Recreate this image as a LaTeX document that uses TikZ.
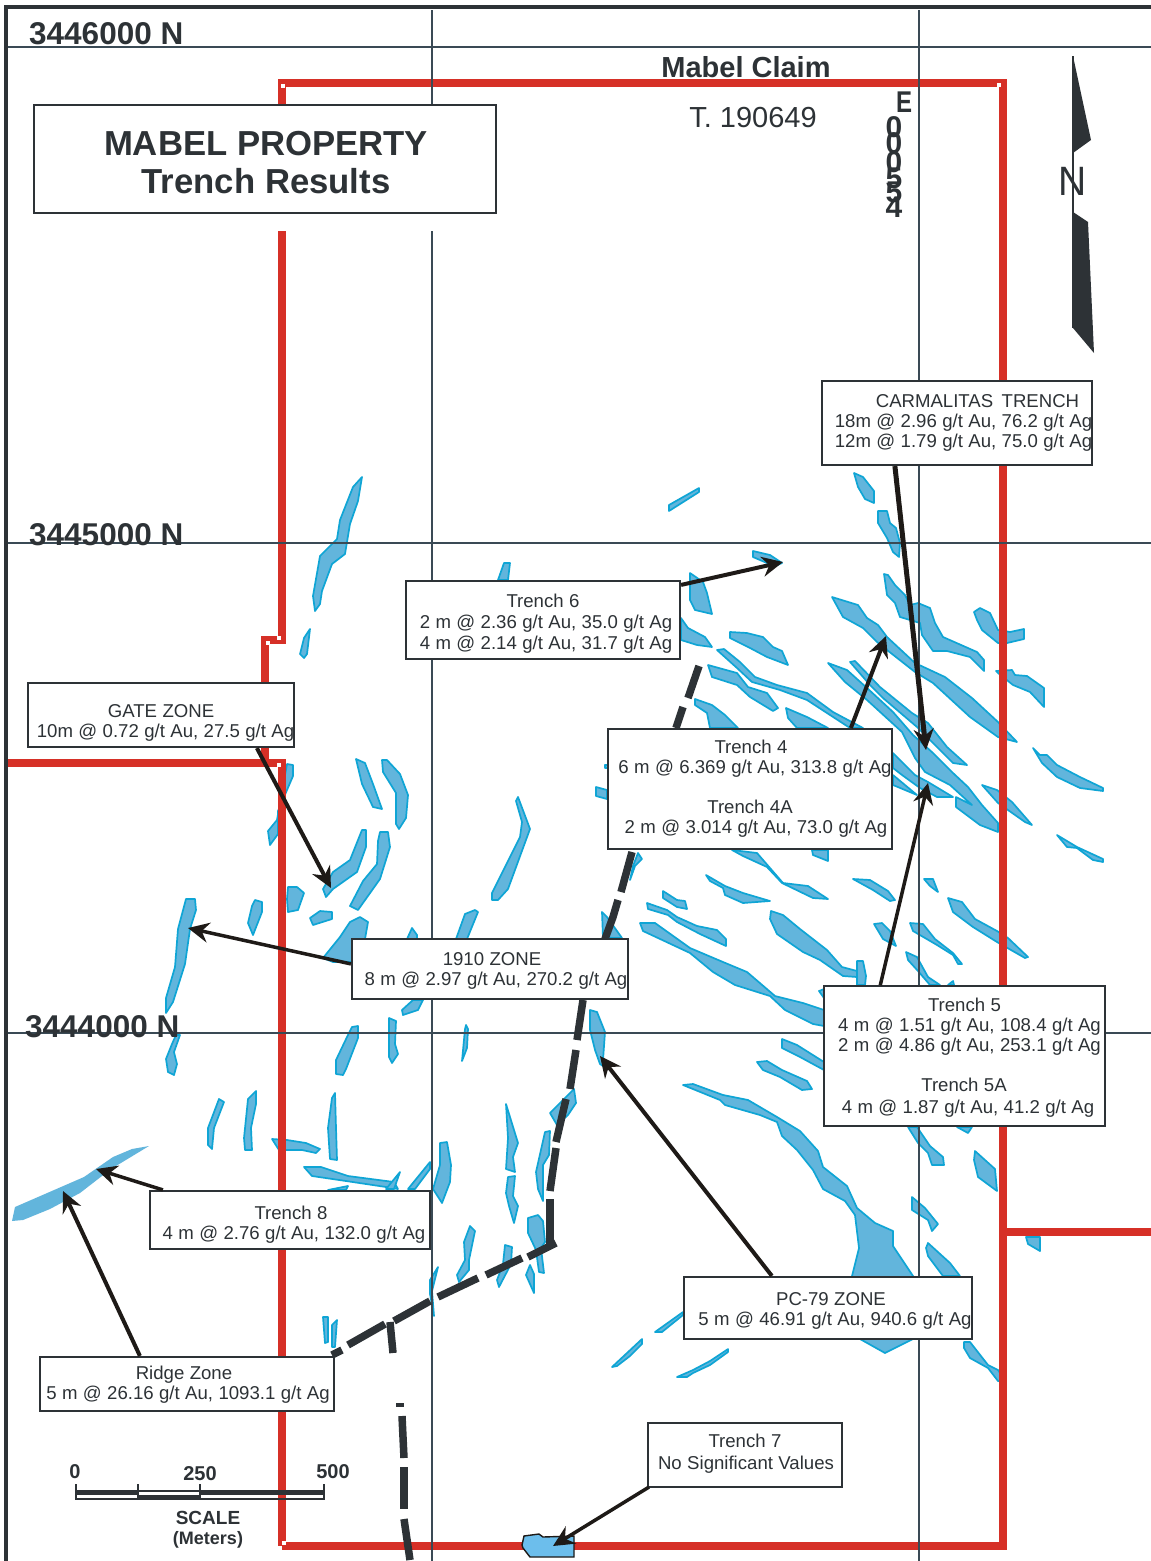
\documentclass[tikz,border=0pt]{standalone}
\usepackage{fontspec}
\setmainfont{Liberation Sans}
\usetikzlibrary{arrows.meta}
\definecolor{veinfill}{HTML}{62B5DC}
\definecolor{veinline}{HTML}{0FA5D5}
\definecolor{claimred}{HTML}{D63027}
\definecolor{gridcol}{HTML}{3A4A55}
\definecolor{inkdark}{HTML}{2D3236}
\definecolor{arrowcol}{HTML}{1E1A17}
\definecolor{blobfill}{HTML}{6CBEEC}
\tikzset{
  vein/.style={fill=veinfill,draw=veinline,line width=1.7pt,line join=round},
  claim/.style={draw=claimred,line width=7.8pt,line join=miter},
  gridline/.style={draw=gridcol,line width=1.9pt},
  trace/.style={draw=inkdark,line width=7.5pt},
  resultbox/.style={draw=inkdark,line width=2.2pt,fill=white,inner sep=0pt},
  resulttext/.style={inner sep=0pt,align=center,text=inkdark,font={\fontsize{18.6}{20}\selectfont\spaceskip=5.4pt}},
  pointer/.style={draw=arrowcol,line width=4pt,-{Stealth[length=21pt,width=20pt,inset=7pt]}},
  coord/.style={font={\bfseries\fontsize{31.5}{34}\selectfont},text=inkdark,inner sep=0pt,anchor=base west},
  scaletext/.style={font={\bfseries\fontsize{20}{22}\selectfont},text=inkdark,inner sep=0pt},
  whitesq/.style={fill=white,draw=none},
  eastdigit/.style={font={\bfseries\fontsize{30}{32}\selectfont},text=inkdark,inner sep=0pt}
}
\newcommand{\veinshape}[1]{\draw[vein] plot coordinates {#1} -- cycle;}
\begin{document}
\begin{tikzpicture}[x=1pt,y=-1pt]
\useasboundingbox (0,0) rectangle (1151,1561);
\fill[white] (0,0) rectangle (1151,1561);
% veins
\veinshape{(669,505) (699,488) (699,492) (669,511)}
\veinshape{(854,473) (863,477) (874,491) (874,503) (865,499) (858,487)}
\veinshape{(878,511) (887,511) (890,523) (896,528) (900,543) (899,557) (893,552) (887,538) (878,523)}
\veinshape{(753,551) (770,555) (782,563) (773,567) (767,563) (753,557)}
\veinshape{(690,573) (703,582) (707,593) (712,614) (695,610) (690,600)}
\veinshape{(681,618) (688,628) (705,637) (712,647) (697,645) (681,640)}
\veinshape{(730,632) (747,633) (763,637) (773,647) (782,651) (788,665) (767,657) (750,648) (730,638)}
\veinshape{(717,650) (724,649) (740,662) (755,677) (777,685) (807,693) (833,712) (863,728) (850,728) (807,700) (780,690) (752,682) (737,668)}
\veinshape{(708,665) (737,673) (748,687) (767,693) (778,708) (773,711) (750,697) (737,685) (712,677)}
\veinshape{(695,699) (712,705) (725,715) (738,728) (710,728) (707,713) (695,705)}
\veinshape{(786,708) (807,717) (828,728) (797,728) (788,718)}
\veinshape{(832,597) (858,605) (867,618) (878,625) (887,637) (915,663) (945,677) (972,698) (998,722) (1017,742) (998,737) (970,717) (933,683) (915,672) (887,650) (877,642) (863,628) (843,617)}
\veinshape{(884,574) (888,575) (895,585) (905,595) (910,605) (918,603) (930,608) (935,623) (943,637) (977,652) (984,660) (984,671) (970,657) (947,651) (933,651) (922,635) (920,623) (900,617) (895,603) (887,595)}
\veinshape{(974,612) (980,608) (990,613) (998,630) (1010,632) (1024,629) (1024,639) (1007,643) (998,643) (982,630) (977,620)}
\veinshape{(996,671) (1012,670) (1015,675) (1027,676) (1044,688) (1044,707) (1030,692) (1013,685) (998,673)}
\veinshape{(850,662) (855,661) (880,687) (912,713) (928,723) (947,747) (967,765) (953,763) (933,743) (917,727) (883,698) (870,685)}
\veinshape{(828,663) (847,670) (867,688) (893,712) (913,735) (933,753) (953,773) (968,787) (982,805) (998,823) (998,832) (980,825) (956,807) (956,797) (972,805) (950,785) (925,772) (915,758) (902,732) (867,700) (845,682)}
\veinshape{(893,753) (907,767) (915,775) (928,782) (953,797) (937,797) (920,788) (902,775) (893,768)}
\veinshape{(893,775) (917,795) (893,785)}
\veinshape{(982,785) (997,790) (1012,802) (1032,825) (1025,822) (998,803)}
\veinshape{(1033,748) (1040,755) (1047,755) (1057,765) (1080,777) (1103,788) (1103,791) (1080,788) (1057,777) (1042,763)}
\veinshape{(1057,835) (1077,847) (1103,859) (1103,862) (1093,860) (1077,848) (1067,847)}
\veinshape{(596,787) (607,790) (607,799) (596,796)}
\veinshape{(605,765) (608,765) (608,768) (605,768)}
\veinshape{(732,850) (757,853) (783,883) (808,886) (828,899) (813,898) (782,883) (767,867) (743,856)}
\veinshape{(812,850) (828,850) (828,861) (813,855)}
\veinshape{(706,875) (725,886) (743,893) (770,901) (743,903) (725,895) (723,888) (710,881)}
\veinshape{(663,891) (677,900) (685,901) (687,909) (677,907) (663,898)}
\veinshape{(647,903) (667,910) (677,917) (697,926) (717,930) (726,939) (726,946) (700,934) (677,922) (668,915) (648,909)}
\veinshape{(640,923) (655,923) (690,948) (723,962) (747,972) (775,996) (803,1003) (824,1010) (824,1026) (813,1024) (785,1010) (770,996) (735,985) (713,972) (690,953) (643,931)}
\veinshape{(771,911) (783,915) (800,929) (827,950) (842,967) (857,971) (857,977) (843,976) (820,960) (803,952) (777,934) (770,919)}
\veinshape{(857,961) (863,961) (866,976) (865,985) (857,985)}
\veinshape{(853,879) (870,880) (888,891) (895,900) (890,901) (873,890)}
\veinshape{(924,879) (933,879) (938,892) (930,886)}
\veinshape{(948,898) (962,902) (975,919) (997,931) (1008,938) (1028,957) (1025,958) (997,942) (973,927) (953,912)}
\veinshape{(874,924) (882,923) (890,931) (896,946) (883,939)}
\veinshape{(910,923) (923,924) (935,939) (953,953) (962,964) (958,964) (953,955) (937,945) (913,931)}
\veinshape{(906,952) (917,957) (928,977) (940,985) (930,985) (918,971) (908,960)}
\veinshape{(953,981) (954,985) (948,985)}
\veinshape{(819,991) (824,989) (824,998)}
\veinshape{(782,1039) (797,1045) (824,1062) (824,1070) (800,1057) (782,1048)}
\veinshape{(757,1062) (767,1061) (782,1070) (807,1081) (812,1089) (802,1090) (780,1077) (763,1070)}
\veinshape{(683,1085) (693,1084) (723,1095) (748,1100) (777,1117) (800,1131) (818,1151) (823,1167) (847,1186) (857,1208) (875,1223) (893,1231) (893,1246) (913,1276) (913,1339) (885,1353) (860,1339) (852,1276) (859,1248) (855,1215) (845,1201) (823,1189) (813,1170) (797,1150) (782,1136) (777,1122) (760,1115) (725,1105) (720,1100)}
\veinshape{(908,1127) (917,1127) (930,1146) (943,1157) (944,1165) (932,1165) (928,1153) (918,1143)}
\veinshape{(957,1127) (972,1127) (968,1133)}
\veinshape{(975,1151) (995,1169) (997,1191) (978,1177) (974,1160)}
\veinshape{(912,1197) (925,1208) (938,1224) (932,1231) (928,1220) (912,1210)}
\veinshape{(928,1243) (950,1263) (960,1276) (943,1276) (928,1256) (926,1248)}
\veinshape{(1026,1237) (1040,1237) (1040,1251) (1028,1244)}
\veinshape{(964,1342) (970,1342) (988,1365) (998,1370) (1006,1382) (998,1381) (988,1368) (970,1358) (964,1348)}
\veinshape{(655,1332) (683,1312) (683,1315) (662,1332)}
\veinshape{(612,1367) (627,1353) (642,1339) (642,1344) (630,1356) (617,1366)}
\veinshape{(677,1377) (693,1370) (710,1361) (728,1349) (728,1352) (710,1365) (693,1373) (687,1377)}
\veinshape{(602,912) (607,917) (622,938) (603,938)}
\veinshape{(638,853) (642,859) (635,866) (630,880) (633,866)}
\veinshape{(362,477) (358,501) (350,524) (345,554) (332,564) (322,591) (320,604) (315,611) (313,596) (320,556) (337,539) (340,520) (353,487)}
\veinshape{(310,629) (307,654) (304,658) (300,654) (304,638)}
\veinshape{(504,563) (510,563) (508,580) (498,580)}
\veinshape{(356,759) (365,763) (373,784) (382,809) (373,807) (362,784)}
\veinshape{(382,760) (387,760) (400,774) (408,795) (406,818) (399,829) (396,824) (396,793) (383,772)}
\veinshape{(287,764) (293,765) (293,776) (278,811) (278,834) (270,845) (268,831) (277,820)}
\veinshape{(362,830) (366,830) (366,847) (357,872) (333,889) (326,897) (323,889) (333,872) (350,860)}
\veinshape{(380,832) (388,832) (390,847) (380,879) (358,910) (350,906) (363,881) (377,864) (378,841)}
\veinshape{(288,887) (297,887) (304,893) (298,910) (288,912) (287,899)}
\veinshape{(310,918) (320,911) (332,912) (332,919) (313,925)}
\veinshape{(360,917) (368,922) (365,939) (352,939) (352,962) (333,962) (323,958) (340,937) (350,922)}
\veinshape{(255,900) (262,902) (262,912) (253,935) (248,923) (252,906)}
\veinshape{(186,899) (195,899) (196,910) (190,929) (185,964) (173,1002) (166,1013) (166,998) (175,967) (178,929)}
\veinshape{(176,1035) (180,1035) (174,1052) (177,1064) (174,1075) (168,1072) (166,1059) (172,1044)}
\veinshape{(518,797) (530,829) (508,889) (498,900) (492,900) (492,893) (520,837) (522,822) (516,801)}
\veinshape{(475,910) (478,912) (467,939) (456,939) (465,914)}
\veinshape{(412,928) (417,935) (417,939) (407,939)}
\veinshape{(403,1015) (402,1010) (413,1000) (423,1000) (418,1010)}
\veinshape{(352,1027) (358,1026) (358,1038) (346,1069) (343,1075) (336,1074) (336,1060) (347,1037)}
\veinshape{(389,1018) (396,1021) (395,1044) (398,1054) (392,1063) (389,1057)}
\veinshape{(466,1025) (468,1029) (467,1048) (462,1061) (465,1029)}
\veinshape{(590,1010) (597,1012) (605,1032) (603,1060) (606,1068) (600,1064) (595,1050) (590,1030)}
\veinshape{(219,1099) (224,1102) (214,1128) (212,1149) (208,1145) (208,1128)}
\veinshape{(256,1091) (256,1104) (251,1128) (252,1150) (245,1150) (244,1138) (248,1099)}
\veinshape{(335,1093) (336,1128) (337,1160) (330,1159) (328,1128) (332,1098)}
\veinshape{(272,1139) (287,1140) (306,1143) (320,1149) (316,1153) (302,1150) (279,1150)}
\veinshape{(304,1167) (321,1167) (348,1176) (394,1182) (398,1189) (386,1187) (346,1181) (312,1176)}
\veinshape{(328,1190) (348,1186) (346,1190)}
\veinshape{(386,1189) (400,1172) (394,1189)}
\veinshape{(408,1189) (430,1162) (430,1169) (415,1189)}
\veinshape{(440,1143) (447,1142) (451,1165) (450,1182) (442,1203) (433,1189) (440,1165)}
\veinshape{(506,1104) (518,1143) (513,1157) (515,1172) (506,1169) (508,1138)}
\veinshape{(508,1177) (515,1176) (513,1196) (518,1206) (514,1223) (509,1206) (506,1193)}
\veinshape{(574,1089) (576,1103) (568,1115) (557,1125) (550,1113) (564,1099)}
\veinshape{(545,1132) (550,1131) (549,1155) (543,1165) (543,1201) (538,1189) (536,1172)}
\veinshape{(528,1218) (538,1215) (543,1221) (545,1242) (541,1248) (544,1273) (539,1272) (536,1250) (528,1233)}
\veinshape{(530,1265) (534,1274) (534,1293) (526,1275)}
\veinshape{(505,1245) (512,1247) (511,1264) (499,1287) (497,1280) (503,1264)}
\veinshape{(470,1226) (475,1231) (469,1260) (469,1270) (459,1282) (457,1275) (465,1260) (464,1242)}
\veinshape{(438,1267) (432,1291) (434,1316) (430,1294) (430,1280)}
\veinshape{(323,1317) (328,1317) (328,1342) (325,1343)}
\veinshape{(332,1325) (337,1320) (335,1347) (332,1347)}
\fill[veinfill] (149,1146) -- (132,1149) -- (113,1157) -- (84,1177) -- (15,1207) -- (12,1221) -- (23,1220) -- (50,1209) -- (80,1193) -- (111,1169) -- cycle;
% claim boundary
\draw[claim] (282,1546) -- (1003,1546) -- (1003,83) -- (282,83) -- (282,240);
\draw[claim] (282,225) -- (282,640) -- (265,640) -- (265,763) -- (7,763);
\draw[claim] (265,763) -- (282,763) -- (282,1546);
\draw[claim] (1003,1232) -- (1151,1232);
\foreach \px/\py in {283/86,999/85,279/638,268/643,279/765,284/1543}
  \fill[whitesq] (\px-2,\py-2) rectangle (\px+2,\py+2);
% grid
\draw[gridline] (6,47) -- (1151,47);
\draw[gridline] (6,543) -- (1151,543);
\draw[gridline] (6,1033) -- (1151,1033);
\draw[gridline] (432,10) -- (432,1561);
\draw[gridline] (919,10) -- (919,1561);
\draw[inkdark,line width=3.5pt] (6,1561) -- (6,7) -- (1151,7);
% title
\fill[white] (34,105) rectangle (496,231);
\node[draw=inkdark,line width=1.6pt,fill=white,minimum width=462pt,minimum height=108pt,inner sep=0pt] (titlebox) at (265,159) {};
\node[inner sep=0pt,align=center,text=inkdark,font={\bfseries\fontsize{34.7}{38}\selectfont}] (title) at (266,163) {MABEL PROPERTY\\Trench Results};
% coordinates
\node[coord] (n1) at (29,44) {3446000 N};
\node[coord] (n2) at (29,545) {3445000 N};
\node[coord] (n3) at (25,1037) {3444000 N};
\node[font={\bfseries\fontsize{29}{32}\selectfont},text=inkdark,inner sep=0pt,anchor=base] (claimname) at (746,77) {Mabel Claim};
\node[font={\fontsize{29}{32}\selectfont},text=inkdark,inner sep=0pt,anchor=base] (tag) at (753,127) {T. 190649};
\node[eastdigit,xscale=.8] (eastE) at (904,102) {E};
\foreach \dg/\dy/\dn in {0/127/a,0/143/b,0/162/c,5/178/d,5/192/e,4/207/f}
  \node[eastdigit] (east\dn) at (894,\dy) {\dg};
% north arrow
\fill[inkdark] (1073,56) -- (1091,140) -- (1073,153) -- cycle;
\fill[inkdark] (1073,212) -- (1088,222) -- (1094,353) -- (1073,328) -- cycle;
\draw[inkdark,line width=1.5pt] (1073,56) -- (1073,328);
\node[font={\fontsize{41}{44}\selectfont},text=inkdark,inner sep=0pt,xscale=.95] (north) at (1073,181) {N};
% scale
\draw[inkdark,line width=1.6pt] (76,1491) rectangle (324,1499);
\fill[inkdark] (76,1491) rectangle (138,1495);
\fill[inkdark] (138,1495) rectangle (200,1499);
\fill[inkdark] (200,1491) rectangle (324,1495);
\draw[inkdark,line width=1.2pt] (76,1484) -- (76,1499) (138,1484) -- (138,1499) (200,1484) -- (200,1499) (324,1484) -- (324,1499);
\node[scaletext] (s0) at (75,1472) {0};
\node[scaletext] (s1) at (200,1474) {250};
\node[scaletext] (s2) at (333,1472) {500};
\node[scaletext,font={\bfseries\fontsize{19}{21}\selectfont}] (s3) at (208,1518) {SCALE};
\node[scaletext,font={\bfseries\fontsize{18}{21}\selectfont}] (s4) at (208,1540) {(Meters)};
% heavy traces
\draw[trace] (699,666) -- (688,698);
\draw[trace] (683,707) -- (676,728);
\draw[trace] (632,852) -- (621,892);
\draw[trace] (618,900) -- (613,917) -- (605,939);
\draw[trace] (583,1000) -- (577,1040);
\draw[trace] (576,1050) -- (570,1089);
\draw[trace] (566,1099) -- (556,1142);
\draw[trace] (556,1148) -- (550,1191);
\draw[trace] (550,1199) -- (550,1246);
\draw[trace] (556,1243) -- (528,1257);
\draw[trace] (522,1258) -- (486,1275);
\draw[trace] (478,1278) -- (438,1297);
\draw[trace] (430,1301) -- (394,1321);
\draw[trace] (385,1324) -- (348,1345);
\draw[trace] (342,1350) -- (332,1355);
\draw[trace] (390,1322) -- (393,1353);
\draw[trace] (400,1403) -- (400,1407);
\draw[trace] (402,1416) -- (404,1458);
\draw[trace] (404,1467) -- (404,1509);
\draw[trace] (404,1519) -- (410,1560);
% bottom blob
\draw[fill=blobfill,draw=arrowcol,line width=1.4pt] (522,1545) -- (524,1536) -- (539,1534) -- (543,1537) -- (574,1536) -- (574,1557) -- (530,1557) -- (523,1548) -- cycle;
% boxes
\node[resultbox,minimum width=270pt,minimum height=84pt] (carm) at (957,423) {};
\node[resultbox,minimum width=274pt,minimum height=78pt] (t6) at (543,620) {};
\node[resultbox,minimum width=266pt,minimum height=64pt] (gate) at (161,715) {};
\node[resultbox,minimum width=284pt,minimum height=120pt] (t4) at (750,789) {};
\node[resultbox,minimum width=276pt,minimum height=60pt] (z1910) at (490,969) {};
\node[resultbox,line width=1.5pt,minimum width=281pt,minimum height=140pt] (t5) at (964.5,1056) {};
\node[resultbox,minimum width=288pt,minimum height=62pt] (pc79) at (828,1308) {};
\node[resultbox,minimum width=280pt,minimum height=58pt] (t8) at (290,1220) {};
\node[resultbox,minimum width=294pt,minimum height=54pt] (ridge) at (187,1384) {};
\node[resultbox,minimum width=194pt,minimum height=64pt] (t7) at (745,1455) {};
% box texts
\node[resulttext] (carmtext) at (963.5,423) {\hspace*{28pt}CARMALITAS\hspace{3pt} TRENCH\\18m @ 2.96 g/t Au, 76.2 g/t Ag\\12m @ 1.79 g/t Au, 75.0 g/t Ag};
\node[resulttext] (t6text) at (546,624) {\hspace*{-6pt}Trench 6\\[1pt]2 m @ 2.36 g/t Au, 35.0 g/t Ag\\[1pt]4 m @ 2.14 g/t Au, 31.7 g/t Ag};
\node[resulttext] (gatetext) at (165.5,723) {\hspace*{-9pt}GATE ZONE\\10m @ 0.72 g/t Au, 27.5 g/t Ag};
\node[resulttext] (t4text) at (755,789) {\hspace*{-8pt}Trench 4\\6 m @ 6.369 g/t Au, 313.8 g/t Ag\\[20pt]\hspace*{-10pt}Trench 4A\\\hspace*{2pt}2 m @ 3.014 g/t Au, 73.0 g/t Ag};
\node[resulttext] (z1910text) at (496,971) {\hspace*{-8pt}1910 ZONE\\8 m @ 2.97 g/t Au, 270.2 g/t Ag};
\node[resulttext] (t5text) at (969.5,1058) {\hspace*{-10pt}Trench 5\\4 m @ 1.51 g/t Au, 108.4 g/t Ag\\2 m @ 4.86 g/t Au, 253.1 g/t Ag\\[20pt]\hspace*{-11pt}Trench 5A\\[2pt]\hspace*{-3pt}4 m @ 1.87 g/t Au, 41.2 g/t Ag};
\node[resulttext] (pc79text) at (835,1311) {\hspace*{-8pt}PC-79 ZONE\\5 m @ 46.91 g/t Au, 940.6 g/t Ag};
\node[resulttext] (t8text) at (294,1225) {\hspace*{-6pt}Trench 8\\4 m @ 2.76 g/t Au, 132.0 g/t Ag};
\node[resulttext] (ridgetext) at (188,1385) {\hspace*{-8pt}Ridge Zone\\5 m @ 26.16 g/t Au, 1093.1 g/t Ag};
\node[resulttext] (t7text) at (746,1454) {\hspace*{-2pt}Trench 7\\[2pt]No Significant Values};
% pointer tips
\coordinate (tipCarm) at (926,750);
\coordinate (tipT6) at (783,562);
\coordinate (tipT4) at (886,636);
\coordinate (tipT5) at (928,783);
\coordinate (tipGate) at (331,888);
\coordinate (tip1910) at (188,928);
\coordinate (tipPC) at (600,1056);
\coordinate (tipT8) at (96,1169);
\coordinate (tipRidge) at (63,1191);
\coordinate (tipT7) at (553,1546);
% pointers
\draw[pointer,line width=5pt] (carm.south west) ++(74,0) -- (tipCarm);
\draw[pointer] (t6.north east) ++(0,5) -- (tipT6);
\draw[pointer] (t4.north west) ++(244,0) -- (tipT4);
\draw[pointer,line width=3.5pt] (t5.north west) ++(57,0) -- (tipT5);
\draw[pointer] (gate.south west) ++(230,0) -- (tipGate);
\draw[pointer,line width=3.5pt] (z1910.north west) ++(0,26) -- (tip1910);
\draw[pointer] (pc79.north west) ++(89,0) -- (tipPC);
\draw[pointer,line width=3.5pt] (t8.north west) ++(14,0) -- (tipT8);
\draw[pointer] (ridge.north west) ++(101,0) -- (tipRidge);
\draw[pointer,line width=3.5pt] (t7.south west) ++(2,-1) -- (tipT7);
\end{tikzpicture}
\end{document}
